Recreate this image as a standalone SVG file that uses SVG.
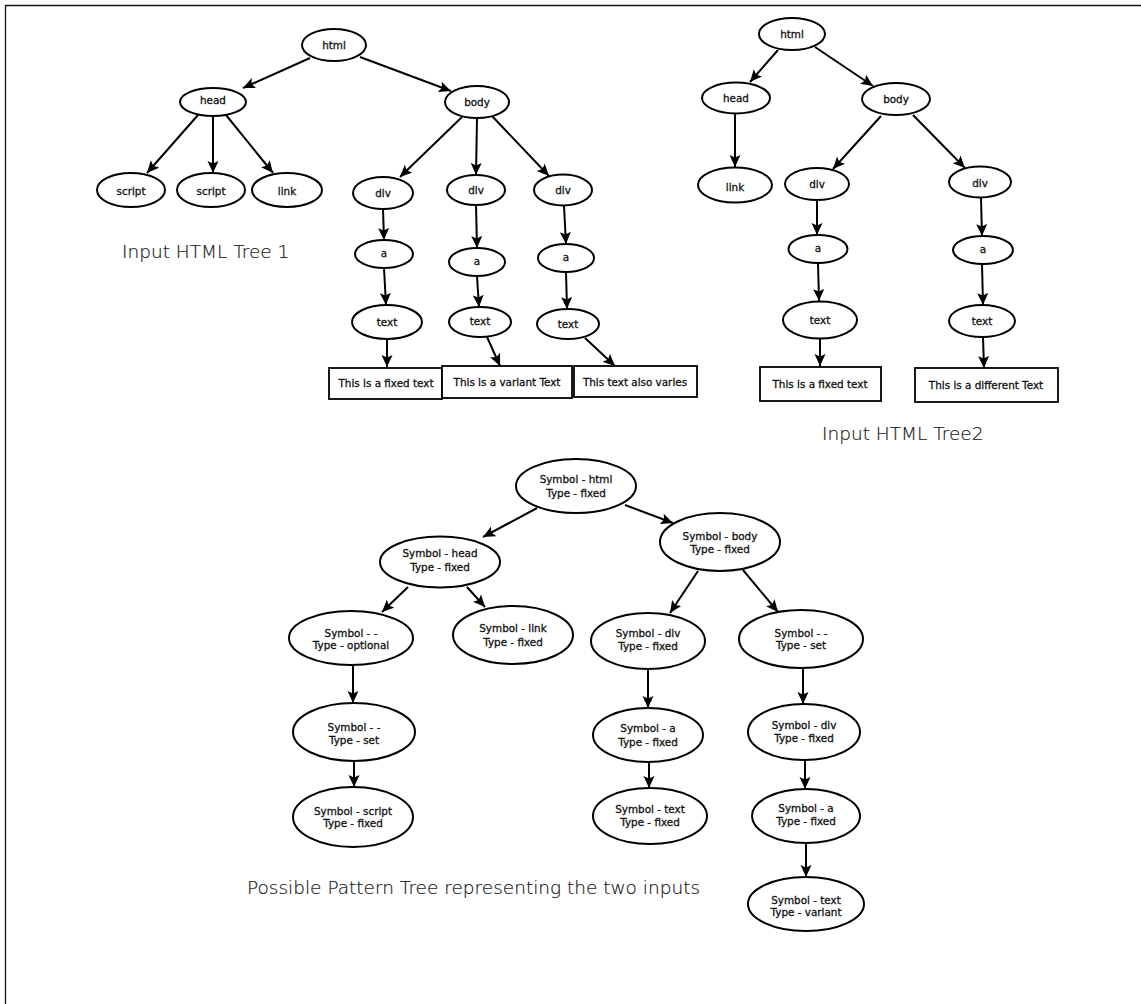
<svg xmlns="http://www.w3.org/2000/svg" width="1141" height="1004" viewBox="0 0 1141 1004">
<style>
.n ellipse{fill:#fff;stroke:#000;stroke-width:2}
.n rect{fill:#fff;stroke:#000;stroke-width:1.8}
.n text{font-family:"DejaVu Sans",sans-serif;font-size:10.4px;fill:#111;stroke:#111;stroke-width:0.3;text-anchor:middle}
.e line{stroke:#000;stroke-width:2;marker-end:url(#ah)}
.cap{font-family:"DejaVu Sans",sans-serif;font-weight:200;font-size:18.5px;fill:#1a1a1a;stroke:#1a1a1a;stroke-width:0.2}
</style>
<defs>
<marker id="ah" markerUnits="userSpaceOnUse" markerWidth="13" markerHeight="12" refX="12" refY="5.5" orient="auto" viewBox="0 0 13 11">
<path d="M0,0 L12,5.5 L0,11 L2.5,5.5 z" fill="#000"/>
</marker>
</defs>
<rect width="1141" height="1004" fill="#fff"/>
<path d="M5.5,1004 V5.5 H1141" fill="none" stroke="#111" stroke-width="1.3"/>

<g id="edges" class="e">
<!-- tree 1 -->
<line x1="310" y1="58" x2="243" y2="88"/>
<line x1="360" y1="57" x2="451" y2="91"/>
<line x1="198" y1="115" x2="147" y2="173"/>
<line x1="213" y1="116" x2="213" y2="173"/>
<line x1="226" y1="115" x2="273" y2="173"/>
<line x1="462" y1="117" x2="400" y2="177"/>
<line x1="477" y1="118" x2="476" y2="175"/>
<line x1="492" y1="116" x2="549" y2="176"/>
<line x1="383" y1="209" x2="384" y2="240"/>
<line x1="476" y1="205" x2="477" y2="248"/>
<line x1="564" y1="206" x2="566" y2="244"/>
<line x1="384" y1="268" x2="386" y2="305"/>
<line x1="477" y1="276" x2="479" y2="307"/>
<line x1="566" y1="272" x2="567" y2="309"/>
<line x1="387" y1="339" x2="387" y2="367"/>
<line x1="487" y1="337" x2="500" y2="366"/>
<line x1="585" y1="338" x2="615" y2="366"/>
<!-- tree 2 -->
<line x1="778" y1="50" x2="750" y2="82"/>
<line x1="815" y1="47" x2="873" y2="86"/>
<line x1="735" y1="114" x2="735" y2="167"/>
<line x1="881" y1="116" x2="833" y2="169"/>
<line x1="913" y1="115" x2="965" y2="168"/>
<line x1="817" y1="200" x2="817" y2="235"/>
<line x1="981" y1="198" x2="982" y2="236"/>
<line x1="818" y1="263" x2="819" y2="301"/>
<line x1="982" y1="264" x2="983" y2="305"/>
<line x1="820" y1="339" x2="820" y2="366"/>
<line x1="983" y1="337" x2="984" y2="368"/>
<!-- pattern tree -->
<line x1="537" y1="508" x2="483" y2="537"/>
<line x1="625" y1="505" x2="673" y2="523"/>
<line x1="408" y1="587" x2="382" y2="612"/>
<line x1="467" y1="587" x2="485" y2="607"/>
<line x1="698" y1="571" x2="670" y2="613"/>
<line x1="743" y1="570" x2="778" y2="612"/>
<line x1="353" y1="665" x2="353" y2="703"/>
<line x1="354" y1="761" x2="354" y2="787"/>
<line x1="648" y1="669" x2="648" y2="708"/>
<line x1="649" y1="762" x2="649" y2="788"/>
<line x1="803" y1="668" x2="803" y2="704"/>
<line x1="805" y1="760" x2="805" y2="789"/>
<line x1="806" y1="843" x2="806" y2="877"/>
</g>

<!-- Tree 1 nodes -->
<g id="t1-html" class="n"><ellipse cx="334" cy="45" rx="32" ry="16"/><text x="334" y="49">html</text></g>
<g id="t1-head" class="n"><ellipse cx="213" cy="102" rx="33" ry="14"/><text x="213" y="104">head</text></g>
<g id="t1-body" class="n"><ellipse cx="477" cy="102" rx="32" ry="16"/><text x="477" y="105.5">body</text></g>
<g id="t1-script1" class="n"><ellipse cx="131" cy="190" rx="34" ry="17"/><text x="131" y="195">script</text></g>
<g id="t1-script2" class="n"><ellipse cx="211" cy="190" rx="34" ry="17"/><text x="211" y="195">script</text></g>
<g id="t1-link" class="n"><ellipse cx="287" cy="190" rx="35" ry="17"/><text x="287" y="195">link</text></g>
<g id="t1-div1" class="n"><ellipse cx="383" cy="193" rx="30" ry="16"/><text x="383" y="197">div</text></g>
<g id="t1-div2" class="n"><ellipse cx="476" cy="190" rx="29" ry="15"/><text x="476" y="194">div</text></g>
<g id="t1-div3" class="n"><ellipse cx="563" cy="190" rx="29" ry="15.5"/><text x="563" y="194">div</text></g>
<g id="t1-a1" class="n"><ellipse cx="384" cy="254" rx="29" ry="14"/><text x="384" y="257">a</text></g>
<g id="t1-a2" class="n"><ellipse cx="477" cy="262" rx="28" ry="14"/><text x="477" y="265">a</text></g>
<g id="t1-a3" class="n"><ellipse cx="566" cy="258" rx="28" ry="14"/><text x="566" y="261">a</text></g>
<g id="t1-text1" class="n"><ellipse cx="387" cy="322" rx="35" ry="17"/><text x="387" y="325.5">text</text></g>
<g id="t1-text2" class="n"><ellipse cx="480" cy="322" rx="31" ry="15"/><text x="480" y="325">text</text></g>
<g id="t1-text3" class="n"><ellipse cx="568" cy="324" rx="31" ry="15"/><text x="568" y="328">text</text></g>
<g id="t1-str1" class="n"><rect x="329" y="368" width="113" height="31"/><text x="386" y="387">This is a fixed text</text></g>
<g id="t1-str2" class="n"><rect x="442" y="366" width="130" height="32"/><text x="507" y="386">This is a variant Text</text></g>
<g id="t1-str3" class="n"><rect x="574" y="366" width="123" height="31"/><text x="635" y="385.5">This text also varies</text></g>
<text class="cap" x="122" y="258">Input HTML Tree 1</text>

<!-- Tree 2 nodes -->
<g id="t2-html" class="n"><ellipse cx="792" cy="34" rx="33" ry="16"/><text x="792" y="38">html</text></g>
<g id="t2-head" class="n"><ellipse cx="736" cy="98" rx="34" ry="15.5"/><text x="736" y="102">head</text></g>
<g id="t2-body" class="n"><ellipse cx="896" cy="99" rx="34" ry="16"/><text x="896" y="103">body</text></g>
<g id="t2-link" class="n"><ellipse cx="735" cy="185" rx="37" ry="17.5"/><text x="735" y="190.5">link</text></g>
<g id="t2-div1" class="n"><ellipse cx="817" cy="184" rx="32" ry="16"/><text x="817" y="188">div</text></g>
<g id="t2-div2" class="n"><ellipse cx="980" cy="182" rx="31" ry="15.5"/><text x="980" y="186.5">div</text></g>
<g id="t2-a1" class="n"><ellipse cx="818" cy="249" rx="29.5" ry="14"/><text x="818" y="252">a</text></g>
<g id="t2-a2" class="n"><ellipse cx="983" cy="250" rx="30" ry="14"/><text x="983" y="253">a</text></g>
<g id="t2-text1" class="n"><ellipse cx="820" cy="320" rx="37" ry="18.5"/><text x="820" y="323.5">text</text></g>
<g id="t2-text2" class="n"><ellipse cx="982" cy="321" rx="33" ry="16"/><text x="982" y="324.5">text</text></g>
<g id="t2-str1" class="n"><rect x="760" y="367" width="121" height="34"/><text x="820" y="388">This is a fixed text</text></g>
<g id="t2-str2" class="n"><rect x="915" y="368" width="143" height="34"/><text x="986" y="389">This is a different Text</text></g>
<text class="cap" x="822" y="440">Input HTML Tree2</text>

<!-- Pattern tree nodes -->
<g id="p-html" class="n"><ellipse cx="576" cy="486" rx="60" ry="27"/><text x="576" y="483">Symbol - html</text><text x="576" y="497">Type - fixed</text></g>
<g id="p-head" class="n"><ellipse cx="440" cy="562" rx="60" ry="25.5"/><text x="440" y="557">Symbol - head</text><text x="440" y="571">Type - fixed</text></g>
<g id="p-body" class="n"><ellipse cx="720" cy="542" rx="60" ry="29"/><text x="720" y="540">Symbol - body</text><text x="720" y="553">Type - fixed</text></g>
<g id="p-opt" class="n"><ellipse cx="351" cy="638" rx="62" ry="27"/><text x="351" y="637">Symbol - -</text><text x="351" y="649">Type - optional</text></g>
<g id="p-link" class="n"><ellipse cx="513" cy="635" rx="60" ry="29"/><text x="513" y="632">Symbol - link</text><text x="513" y="645.5">Type - fixed</text></g>
<g id="p-div" class="n"><ellipse cx="648" cy="641" rx="57" ry="28"/><text x="648" y="637">Symbol - div</text><text x="648" y="650">Type - fixed</text></g>
<g id="p-set" class="n"><ellipse cx="801" cy="639" rx="62" ry="29"/><text x="801" y="637">Symbol - -</text><text x="801" y="649">Type - set</text></g>
<g id="p-set2" class="n"><ellipse cx="354" cy="732" rx="61" ry="29"/><text x="354" y="731">Symbol - -</text><text x="354" y="744">Type - set</text></g>
<g id="p-script" class="n"><ellipse cx="353" cy="817" rx="60" ry="30"/><text x="353" y="815">Symbol - script</text><text x="353" y="827">Type - fixed</text></g>
<g id="p-a" class="n"><ellipse cx="648" cy="735" rx="55" ry="27"/><text x="648" y="732">Symbol - a</text><text x="648" y="745.5">Type - fixed</text></g>
<g id="p-text" class="n"><ellipse cx="650" cy="816" rx="57" ry="28"/><text x="650" y="813">Symbol - text</text><text x="650" y="826">Type - fixed</text></g>
<g id="p-div2" class="n"><ellipse cx="804" cy="732" rx="56" ry="28"/><text x="804" y="729">Symbol - div</text><text x="804" y="742">Type - fixed</text></g>
<g id="p-a2" class="n"><ellipse cx="806" cy="816" rx="54" ry="27"/><text x="806" y="812">Symbol - a</text><text x="806" y="825">Type - fixed</text></g>
<g id="p-text2" class="n"><ellipse cx="806" cy="904" rx="58" ry="27"/><text x="806" y="904">Symbol - text</text><text x="806" y="916">Type - variant</text></g>
<text class="cap" x="247" y="894">Possible Pattern Tree representing the two inputs</text>
</svg>
